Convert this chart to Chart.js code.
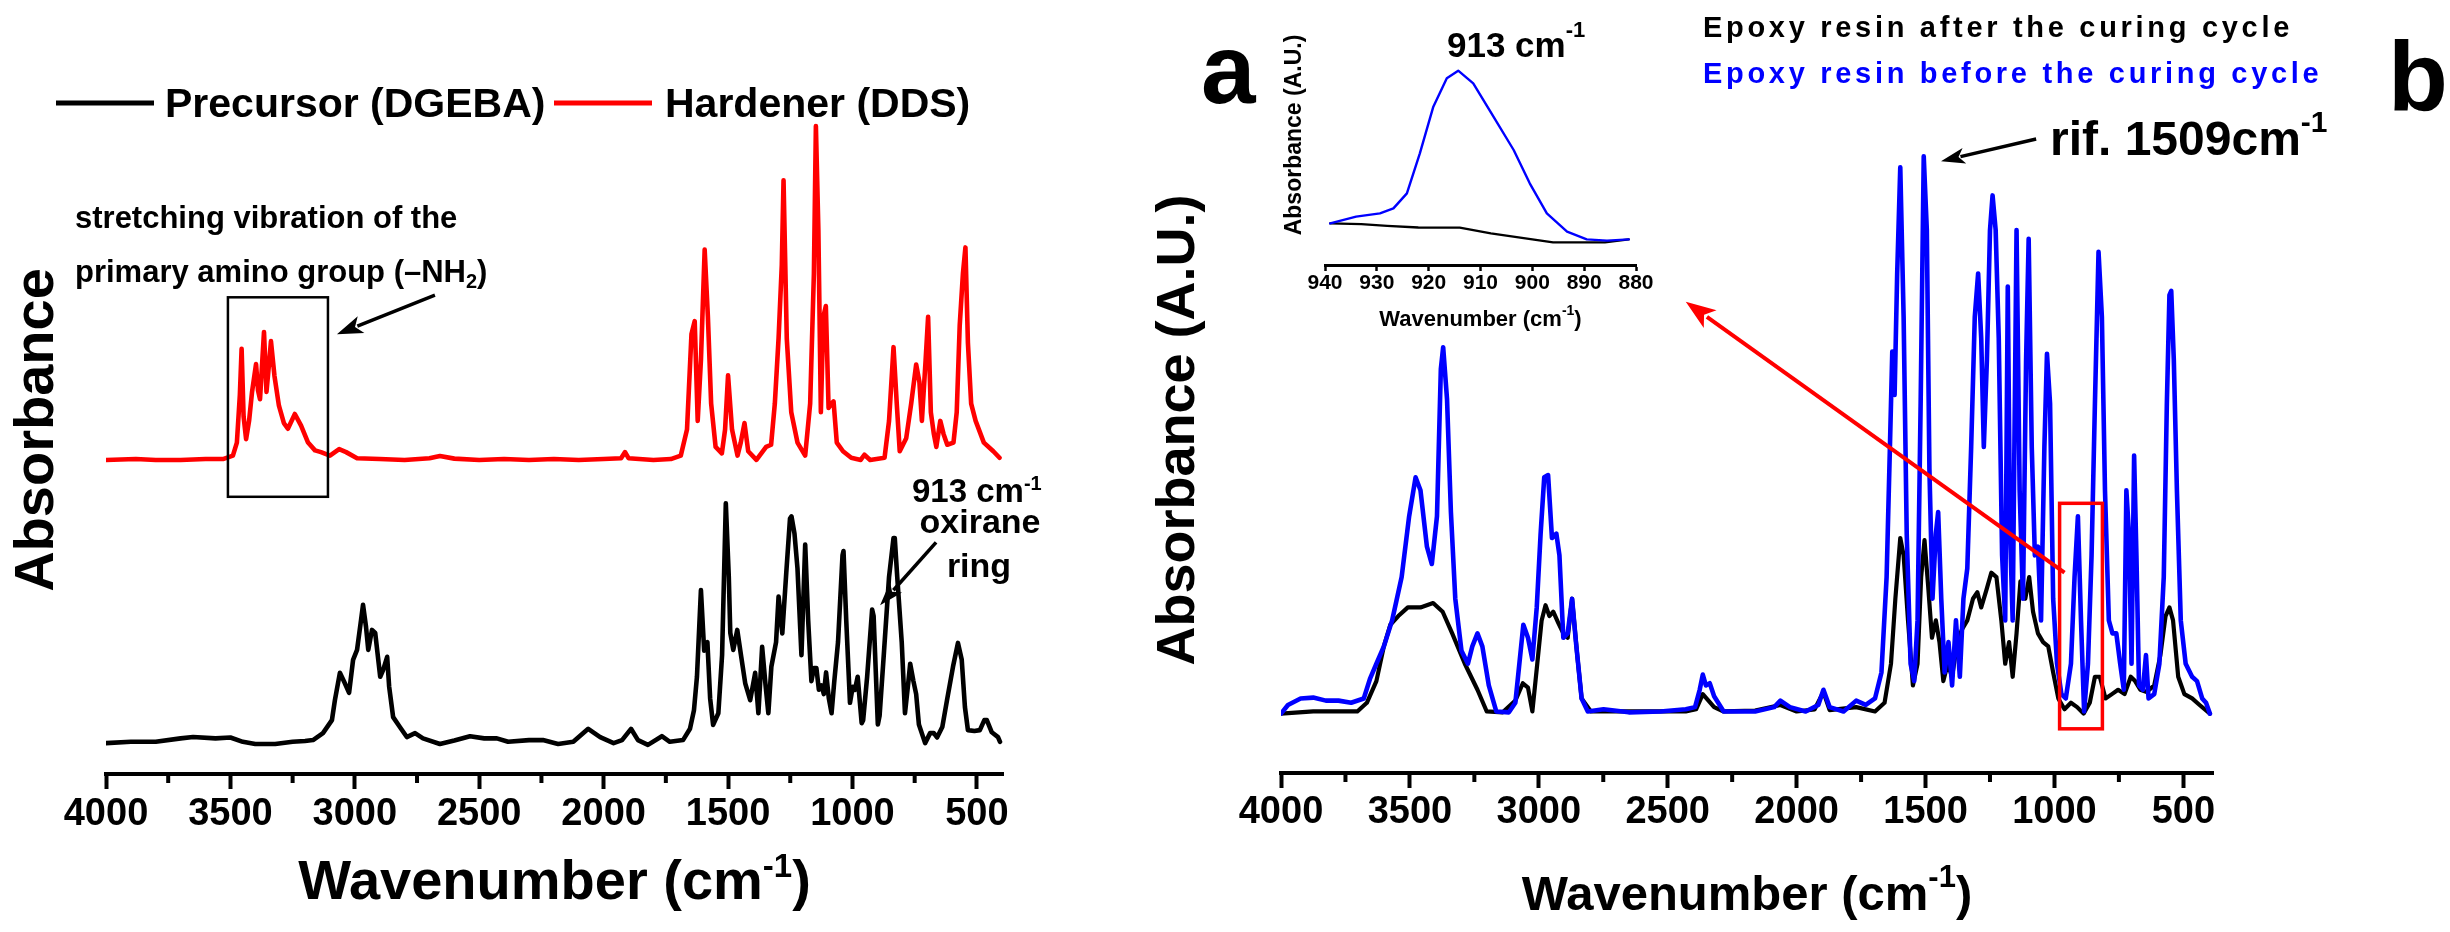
<!DOCTYPE html>
<html><head><meta charset="utf-8">
<script src="https://cdn.jsdelivr.net/npm/chart.js@4.4.1/dist/chart.umd.min.js"></script>
<style>
html,body{margin:0;padding:0;background:#fff;}
#wrap{position:relative;width:2450px;height:932px;background:#fff;overflow:hidden}
canvas{position:absolute;left:0;top:0}
</style></head><body>
<div id="wrap">
<canvas id="cL" width="2450" height="932"></canvas>
<canvas id="cR" width="2450" height="932"></canvas>
<canvas id="cI" width="2450" height="932"></canvas>
</div>
<script>
// ---------------- DATA ----------------
const wavenumberTicks = [4000, 3500, 3000, 2500, 2000, 1500, 1000, 500];
const wavenumberMinorTicks = [3750, 3250, 2750, 2250, 1750, 1250, 750];
const insetTicks = [940, 930, 920, 910, 900, 890, 880];

// panel a: precursor (DGEBA), [wavenumber, absorbance]
const precursorSpectrum = [[4000,-0.003],[3900,0],[3800,0],[3700,0.008],[3650,0.011],[3560,0.008],[3500,0.01],[3450,0],[3400,-0.005],[3320,-0.005],[3250,0],[3200,0.002],[3168,0.004],[3128,0.02],[3092,0.05],[3080,0.096],[3060,0.159],[3040,0.135],[3023,0.113],[3007,0.189],[2991,0.212],[2975,0.281],[2967,0.316],[2955,0.265],[2946,0.212],[2931,0.258],[2918,0.251],[2898,0.15],[2886,0.166],[2870,0.196],[2862,0.127],[2846,0.057],[2819,0.034],[2791,0.011],[2758,0.02],[2726,0.008],[2658,-0.005],[2600,0.003],[2537,0.013],[2480,0.008],[2429,0.008],[2384,0],[2300,0.004],[2244,0.004],[2183,-0.005],[2122,0],[2062,0.03],[2014,0.011],[1960,-0.003],[1926,0.004],[1890,0.03],[1862,0.004],[1822,-0.007],[1766,0.013],[1734,0],[1681,0.004],[1653,0.03],[1637,0.073],[1625,0.15],[1609,0.35],[1596,0.21],[1583,0.23],[1572,0.1],[1560,0.039],[1539,0.066],[1524,0.2],[1509,0.55],[1497,0.38],[1491,0.251],[1479,0.212],[1463,0.258],[1447,0.196],[1431,0.135],[1411,0.096],[1391,0.159],[1378,0.066],[1363,0.219],[1350,0.135],[1338,0.066],[1326,0.173],[1307,0.23],[1297,0.335],[1282,0.25],[1266,0.39],[1251,0.515],[1245,0.52],[1233,0.48],[1221,0.4],[1205,0.2],[1190,0.455],[1178,0.28],[1165,0.14],[1155,0.17],[1145,0.17],[1135,0.12],[1124,0.13],[1115,0.11],[1106,0.16],[1095,0.1],[1084,0.066],[1073,0.14],[1058,0.23],[1040,0.43],[1036,0.44],[1025,0.28],[1010,0.09],[999,0.127],[990,0.12],[979,0.15],[963,0.043],[957,0.05],[941,0.15],[921,0.305],[915,0.29],[898,0.04],[891,0.06],[873,0.21],[853,0.38],[835,0.47],[830,0.47],[820,0.38],[802,0.23],[789,0.066],[775,0.14],[768,0.18],[755,0.14],[744,0.11],[733,0.04],[708,-0.003],[688,0.02],[673,0.02],[660,0.01],[639,0.034],[620,0.096],[596,0.173],[576,0.228],[561,0.19],[548,0.08],[536,0.027],[510,0.025],[488,0.027],[470,0.05],[460,0.05],[440,0.022],[415,0.011],[407,0]];

// panel a: hardener (DDS), [wavenumber, absorbance], plotted with a vertical offset
const hardenerSpectrum = [[4000,0],[3880,0.002],[3800,0],[3700,0],[3600,0.002],[3530,0.002],[3490,0.01],[3474,0.04],[3462,0.15],[3455,0.256],[3447,0.1],[3437,0.048],[3425,0.09],[3413,0.157],[3397,0.221],[3389,0.16],[3381,0.14],[3365,0.295],[3355,0.157],[3345,0.22],[3337,0.274],[3323,0.194],[3305,0.125],[3285,0.085],[3269,0.072],[3241,0.106],[3216,0.079],[3188,0.04],[3160,0.022],[3136,0.018],[3100,0.01],[3063,0.025],[3035,0.018],[2991,0.004],[2900,0.002],[2800,0],[2700,0.004],[2658,0.009],[2600,0.003],[2500,0],[2400,0.002],[2300,0],[2200,0.002],[2100,0],[2000,0.002],[1930,0.004],[1914,0.018],[1900,0.004],[1800,0],[1730,0.002],[1690,0.01],[1665,0.07],[1647,0.29],[1634,0.32],[1622,0.09],[1609,0.23],[1594,0.485],[1581,0.33],[1568,0.13],[1550,0.03],[1525,0.015],[1512,0.07],[1500,0.195],[1484,0.07],[1462,0.01],[1449,0.04],[1434,0.085],[1419,0.02],[1386,0],[1347,0.03],[1327,0.035],[1312,0.13],[1297,0.28],[1284,0.45],[1277,0.645],[1264,0.28],[1246,0.11],[1221,0.04],[1190,0.01],[1170,0.13],[1155,0.43],[1147,0.77],[1137,0.53],[1127,0.11],[1117,0.33],[1107,0.355],[1096,0.12],[1084,0.13],[1076,0.135],[1063,0.04],[1038,0.02],[1005,0.005],[967,0],[952,0.012],[929,0],[871,0.005],[853,0.09],[835,0.26],[822,0.13],[810,0.02],[784,0.05],[764,0.13],[744,0.22],[731,0.18],[721,0.09],[706,0.23],[696,0.33],[685,0.11],[673,0.06],[663,0.03],[647,0.09],[634,0.06],[619,0.035],[594,0.04],[581,0.11],[569,0.31],[556,0.43],[546,0.49],[536,0.27],[523,0.13],[505,0.09],[472,0.04],[434,0.02],[409,0.005]];
const hardenerOffset = 0.65;

// panel b: epoxy resin before curing
const beforeCuringSpectrum = [[4000,0],[3973,0.02],[3924,0.035],[3875,0.037],[3826,0.03],[3777,0.03],[3728,0.025],[3679,0.035],[3655,0.08],[3630,0.115],[3601,0.155],[3569,0.215],[3532,0.315],[3503,0.455],[3478,0.545],[3459,0.515],[3434,0.385],[3415,0.345],[3395,0.455],[3380,0.795],[3371,0.845],[3356,0.725],[3341,0.465],[3324,0.265],[3300,0.145],[3275,0.115],[3258,0.155],[3238,0.185],[3219,0.155],[3194,0.065],[3165,0.005],[3116,0.003],[3091,0.025],[3072,0.135],[3060,0.205],[3042,0.175],[3025,0.125],[3008,0.245],[2993,0.415],[2979,0.545],[2964,0.55],[2949,0.405],[2932,0.415],[2920,0.365],[2905,0.175],[2888,0.185],[2871,0.265],[2856,0.165],[2834,0.035],[2810,0.005],[2749,0.01],[2651,0.003],[2528,0.005],[2430,0.01],[2394,0.015],[2376,0.055],[2364,0.09],[2352,0.065],[2337,0.07],[2320,0.04],[2283,0.005],[2161,0.005],[2087,0.015],[2063,0.03],[2026,0.015],[1965,0.005],[1916,0.02],[1896,0.055],[1872,0.015],[1818,0.005],[1769,0.03],[1732,0.02],[1696,0.035],[1671,0.095],[1651,0.315],[1639,0.595],[1629,0.835],[1620,0.735],[1610,1.015],[1598,1.26],[1585,0.915],[1573,0.415],[1558,0.115],[1544,0.075],[1531,0.215],[1519,0.715],[1507,1.285],[1495,1.115],[1485,0.565],[1473,0.265],[1460,0.415],[1451,0.465],[1439,0.265],[1426,0.095],[1411,0.165],[1397,0.065],[1382,0.215],[1367,0.085],[1353,0.265],[1338,0.335],[1323,0.615],[1309,0.915],[1296,1.015],[1284,0.865],[1274,0.615],[1262,0.815],[1250,1.115],[1240,1.195],[1228,1.115],[1216,0.865],[1203,0.365],[1191,0.215],[1181,0.985],[1172,0.415],[1162,0.215],[1147,1.115],[1135,0.515],[1122,0.265],[1110,0.815],[1100,1.095],[1088,0.615],[1076,0.365],[1064,0.385],[1052,0.215],[1039,0.615],[1029,0.83],[1017,0.715],[1005,0.265],[990,0.115],[973,0.045],[956,0.035],[936,0.115],[922,0.315],[909,0.455],[897,0.215],[885,0.005],[870,0.115],[856,0.365],[843,0.715],[829,1.065],[816,0.915],[804,0.515],[789,0.215],[775,0.185],[760,0.185],[745,0.115],[731,0.055],[721,0.515],[711,0.415],[701,0.115],[691,0.595],[682,0.365],[672,0.065],[657,0.055],[645,0.135],[635,0.035],[613,0.045],[593,0.115],[576,0.315],[564,0.715],[554,0.965],[547,0.975],[537,0.815],[525,0.515],[510,0.215],[491,0.115],[466,0.085],[447,0.075],[427,0.035],[412,0.025],[397,0]];

// panel b: epoxy resin after curing
const afterCuringSpectrum = [[4000,0],[3875,0.005],[3704,0.005],[3667,0.025],[3630,0.075],[3601,0.155],[3576,0.205],[3545,0.225],[3508,0.245],[3459,0.245],[3410,0.255],[3373,0.235],[3336,0.185],[3287,0.115],[3238,0.055],[3202,0.005],[3140,0.003],[3091,0.03],[3062,0.07],[3042,0.06],[3025,0.005],[3006,0.115],[2989,0.215],[2974,0.25],[2959,0.225],[2944,0.235],[2925,0.21],[2905,0.185],[2888,0.175],[2871,0.265],[2851,0.135],[2834,0.035],[2798,0.005],[2700,0.005],[2550,0.005],[2430,0.005],[2390,0.01],[2364,0.045],[2320,0.015],[2283,0.005],[2161,0.007],[2063,0.02],[2000,0.005],[1930,0.01],[1896,0.05],[1872,0.008],[1769,0.015],[1696,0.005],[1659,0.025],[1634,0.115],[1617,0.265],[1598,0.405],[1585,0.365],[1568,0.215],[1549,0.065],[1531,0.115],[1517,0.315],[1504,0.4],[1490,0.295],[1475,0.175],[1460,0.215],[1446,0.165],[1431,0.075],[1414,0.115],[1397,0.085],[1377,0.165],[1358,0.195],[1338,0.215],[1316,0.265],[1299,0.28],[1284,0.245],[1264,0.285],[1245,0.325],[1225,0.315],[1206,0.215],[1191,0.115],[1176,0.165],[1162,0.085],[1147,0.185],[1132,0.305],[1113,0.265],[1098,0.315],[1083,0.235],[1064,0.185],[1044,0.165],[1024,0.155],[1005,0.095],[985,0.035],[961,0.01],[936,0.025],[912,0.015],[887,0],[863,0.025],[843,0.085],[824,0.085],[802,0.035],[777,0.045],[753,0.055],[728,0.045],[704,0.085],[687,0.075],[667,0.055],[642,0.05],[613,0.065],[589,0.135],[569,0.225],[554,0.245],[540,0.215],[520,0.085],[496,0.045],[466,0.035],[437,0.02],[397,0]];

// inset (913 cm-1 region)
const insetBeforeSpectrum = [[939,0.10],[934,0.14],[929.4,0.16],[926.8,0.19],[924.2,0.28],[921.7,0.52],[919.1,0.80],[916.5,0.97],[914.3,1.016],[911.4,0.94],[907.5,0.74],[903.6,0.54],[900.5,0.34],[897.2,0.16],[893.3,0.05],[889.5,0.004],[885.6,-0.004],[881.4,0.004]];
const insetAfterSpectrum = [[939,0.10],[933,0.095],[928,0.085],[922,0.075],[914,0.074],[908,0.04],[900,0.004],[896,-0.014],[886,-0.014],[881.4,0.004]];

// annotation anchors (data coordinates)
const nh2Box = {wn1: 3510, wn2: 3108, a1: 1.025, a2: 0.565};
const oxiraneBox = {wn1: 980, wn2: 814, a1: 0.485, a2: -0.035};

// ---------------- HELPERS ----------------
const FAM = '"Liberation Sans", Arial, Helvetica, sans-serif';
const bold = px => `bold ${px}px ${FAM}`;

function setLS(ctx, v){ if ('letterSpacing' in ctx) ctx.letterSpacing = v; }

function drawRich(ctx, parts, x, y, align){
  let w = 0;
  parts.forEach(p => { ctx.font = p.font; setLS(ctx, p.ls || '0px'); p.w = ctx.measureText(p.t).width; w += p.w; });
  let cx = align === 'center' ? x - w/2 : (align === 'right' ? x - w : x);
  parts.forEach(p => {
    ctx.font = p.font; setLS(ctx, p.ls || '0px');
    ctx.fillStyle = p.color || '#000'; ctx.textAlign = 'left'; ctx.textBaseline = 'alphabetic';
    ctx.fillText(p.t, cx, y + (p.dy || 0)); cx += p.w;
  });
  setLS(ctx, '0px');
}
function vText(ctx, text, x, y, font){
  ctx.save(); ctx.translate(x, y); ctx.rotate(-Math.PI/2);
  ctx.font = font; setLS(ctx, '0px'); ctx.textAlign = 'center'; ctx.textBaseline = 'alphabetic';
  ctx.fillStyle = '#000'; ctx.fillText(text, 0, 0); ctx.restore();
}
function arrow(ctx, x1, y1, x2, y2, color, lw, hl, hw){
  const a = Math.atan2(y2 - y1, x2 - x1);
  const bx = x2 - hl * Math.cos(a), by = y2 - hl * Math.sin(a);
  ctx.strokeStyle = color; ctx.lineWidth = lw; ctx.lineCap = 'butt';
  ctx.beginPath(); ctx.moveTo(x1, y1); ctx.lineTo(bx + 4*Math.cos(a), by + 4*Math.sin(a)); ctx.stroke();
  ctx.fillStyle = color; ctx.beginPath(); ctx.moveTo(x2, y2);
  ctx.lineTo(bx + hw/2 * Math.sin(a), by - hw/2 * Math.cos(a));
  ctx.lineTo(bx + 0.25*hl*Math.cos(a), by + 0.25*hl*Math.sin(a));
  ctx.lineTo(bx - hw/2 * Math.sin(a), by + hw/2 * Math.cos(a));
  ctx.closePath(); ctx.fill();
}
function minorTicks(chart, ctx, values, len, width){
  const s = chart.scales.x;
  ctx.strokeStyle = '#000'; ctx.lineWidth = width; ctx.beginPath();
  values.forEach(v => { const px = s.getPixelForValue(v); ctx.moveTo(px, s.top); ctx.lineTo(px, s.top + len); });
  ctx.stroke();
}
function px(chart, wn, a){ return [chart.scales.x.getPixelForValue(wn), chart.scales.y.getPixelForValue(a)]; }
function boxRect(chart, ctx, b, color, lw){
  const [x1, y1] = px(chart, b.wn1, b.a1), [x2, y2] = px(chart, b.wn2, b.a2);
  ctx.strokeStyle = color; ctx.lineWidth = lw; ctx.strokeRect(x1, y1, x2 - x1, y2 - y1);
}
function lineDs(label, spectrum, color, width, offset){
  return { label, data: spectrum.map(p => ({x: p[0], y: p[1] + (offset || 0)})),
    borderColor: color, backgroundColor: color, borderWidth: width, pointRadius: 0,
    tension: 0, fill: false, borderJoinStyle: 'round', borderCapStyle: 'round' };
}
function xAxis(min, max, ticks, fontSize, tickLen, tickW, borderW, pad, height){
  return { type: 'linear', reverse: true, min, max,
    afterBuildTicks: s => { s.ticks = ticks.map(v => ({value: v})); },
    afterFit: s => { s.height = height; },
    border: {display: true, color: '#000', width: borderW},
    grid: {display: true, drawOnChartArea: false, drawTicks: true, color: '#000', tickColor: '#000', tickLength: tickLen, tickWidth: tickW},
    ticks: {autoSkip: false, maxRotation: 0, minRotation: 0, padding: pad, color: '#000',
      font: {family: FAM, size: fontSize, weight: 'bold'}, callback: v => String(v)} };
}
function baseOptions(padding, xScale, yMin, yMax){
  return { responsive: false, animation: false, devicePixelRatio: 1, events: [],
    layout: {padding},
    plugins: {legend: {display: false}, tooltip: {enabled: false}},
    scales: {x: xScale, y: {display: false, min: yMin, max: yMax}} };
}
function extras(id, fn){ return {id, afterDraw(chart){ const c = chart.ctx; c.save(); fn(chart, c); c.restore(); }}; }

// ---------------- PANEL a ----------------
new Chart(document.getElementById('cL'), {
  type: 'line',
  data: {datasets: [
    lineDs('Precursor (DGEBA)', precursorSpectrum, '#000000', 4.6),
    lineDs('Hardener (DDS)', hardenerSpectrum, '#ff0000', 4.6, hardenerOffset)
  ]},
  options: baseOptions({left: 106, right: 1447, top: 110, bottom: 0},
    xAxis(395, 4000, wavenumberTicks, 38, 15, 4, 4, 3, 158), -0.0742, 1.4569),
  plugins: [extras('leftExtras', (chart, ctx) => {
    const ca = chart.chartArea;
    minorTicks(chart, ctx, wavenumberMinorTicks, 9, 4);
    // legend
    ctx.lineCap = 'butt';
    ctx.strokeStyle = '#000'; ctx.lineWidth = 5; ctx.beginPath(); ctx.moveTo(56, 103); ctx.lineTo(154, 103); ctx.stroke();
    ctx.strokeStyle = '#ff0000'; ctx.beginPath(); ctx.moveTo(554, 103); ctx.lineTo(652, 103); ctx.stroke();
    drawRich(ctx, [{t: 'Precursor (DGEBA)', font: bold(41)}], 165, 117, 'left');
    drawRich(ctx, [{t: 'Hardener (DDS)', font: bold(41)}], 665, 117, 'left');
    // NH2 annotation
    drawRich(ctx, [{t: 'stretching vibration of the', font: bold(31)}], 75, 228, 'left');
    drawRich(ctx, [{t: 'primary amino group (\u2013NH', font: bold(31)}, {t: '2', font: bold(20), dy: 6}, {t: ')', font: bold(31)}], 75, 282, 'left');
    boxRect(chart, ctx, nh2Box, '#000', 2.5);
    let [ax1, ay1] = px(chart, 2678, 1.03), [ax2, ay2] = px(chart, 3072, 0.94);
    arrow(ctx, ax1, ay1, ax2, ay2, '#000', 3.5, 26, 18);
    // oxirane annotation
    drawRich(ctx, [{t: '913 cm', font: bold(33)}, {t: '-1', font: bold(20), dy: -12}], 912, 502, 'left');
    drawRich(ctx, [{t: 'oxirane', font: bold(34)}], 980, 533, 'center');
    drawRich(ctx, [{t: 'ring', font: bold(34)}], 979, 577, 'center');
    [ax1, ay1] = px(chart, 664, 0.46); [ax2, ay2] = px(chart, 889, 0.315);
    arrow(ctx, ax1, ay1, ax2, ay2, '#000', 3.5, 24, 16);
    // axis titles
    drawRich(ctx, [{t: 'Wavenumber (cm', font: bold(56)}, {t: '-1', font: bold(33), dy: -22}, {t: ')', font: bold(56)}], (ca.left + ca.right)/2, 899, 'center');
    vText(ctx, 'Absorbance', 53, 430, bold(56));
  })]
});

// ---------------- PANEL b ----------------
new Chart(document.getElementById('cR'), {
  type: 'line',
  data: {datasets: [
    lineDs('Epoxy resin before the curing cycle', beforeCuringSpectrum, '#0000ff', 4.6),
    lineDs('Epoxy resin after the curing cycle', afterCuringSpectrum, '#000000', 4.2)
  ]},
  options: baseOptions({left: 1281, right: 237, top: 140, bottom: 0},
    xAxis(385, 4000, wavenumberTicks, 38, 15, 4, 4, 2, 159), -0.1369, 1.3228),
  plugins: [extras('rightExtras', (chart, ctx) => {
    const ca = chart.chartArea;
    minorTicks(chart, ctx, wavenumberMinorTicks, 9, 4);
    // panel letters
    ctx.fillStyle = '#000'; ctx.font = bold(98); ctx.textAlign = 'left'; ctx.textBaseline = 'alphabetic';
    ctx.fillText('a', 1201, 103);
    ctx.fillText('b', 2388, 110);
    // legend text
    drawRich(ctx, [{t: 'Epoxy resin after the curing cycle', font: bold(29), ls: '3.7px', color: '#000'}], 1703, 37, 'left');
    drawRich(ctx, [{t: 'Epoxy resin before the curing cycle', font: bold(29), ls: '3.7px', color: '#0000ff'}], 1703, 83, 'left');
    // reference peak
    drawRich(ctx, [{t: 'rif. 1509cm', font: bold(48)}, {t: '-1', font: bold(30), dy: -23}], 2050, 155, 'left');
    let [ax1, ay1] = px(chart, 1071, 1.325), [ax2, ay2] = px(chart, 1440, 1.274);
    arrow(ctx, ax1, ay1, ax2, ay2, '#000', 3.5, 24, 16);
    // oxirane region box and arrow to inset
    boxRect(chart, ctx, oxiraneBox, '#ff0000', 3.5);
    [ax1, ay1] = px(chart, 961, 0.325); [ax2, ay2] = px(chart, 2430, 0.95);
    arrow(ctx, ax1, ay1, ax2, ay2, '#ff0000', 4, 30, 22);
    // axis titles
    drawRich(ctx, [{t: 'Wavenumber (cm', font: bold(49)}, {t: '-1', font: bold(31), dy: -23}, {t: ')', font: bold(49)}], (ca.left + ca.right)/2, 910, 'center');
    vText(ctx, 'Absorbance (A.U.)', 1194, 430, bold(54));
  })]
});

// ---------------- INSET ----------------
new Chart(document.getElementById('cI'), {
  type: 'line',
  data: {datasets: [
    lineDs('before', insetBeforeSpectrum, '#0000ff', 2.4),
    lineDs('after', insetAfterSpectrum, '#000000', 2.4)
  ]},
  options: baseOptions({left: 1325, right: 814, top: 60, bottom: 0},
    xAxis(880, 940, insetTicks, 21, 6, 2.5, 3, 0, 667), -0.15, 1.08),
  plugins: [extras('insetExtras', (chart, ctx) => {
    const ca = chart.chartArea;
    drawRich(ctx, [{t: '913 cm', font: bold(35)}, {t: '-1', font: bold(22), dy: -20}], 1447, 57, 'left');
    drawRich(ctx, [{t: 'Wavenumber (cm', font: bold(22)}, {t: '-1', font: bold(14), dy: -11}, {t: ')', font: bold(22)}], (ca.left + ca.right)/2, 326, 'center');
    vText(ctx, 'Absorbance (A.U.)', 1301, 135, bold(23));
  })]
});
</script>
</body></html>
